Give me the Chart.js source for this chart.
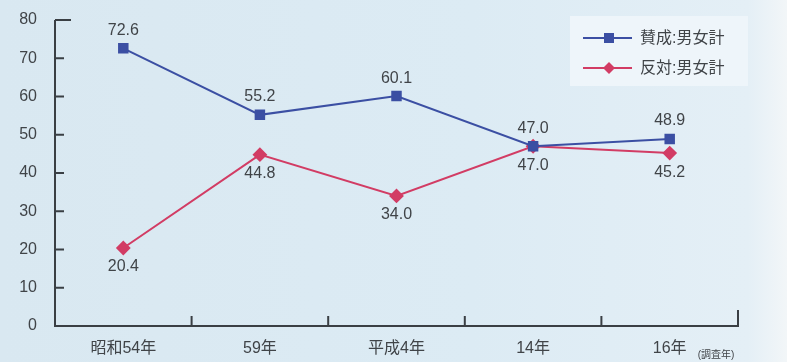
<!DOCTYPE html>
<html lang="ja">
<head>
  <meta charset="UTF-8" />
  <title>賛成・反対の推移</title>
  <script src="https://cdn.jsdelivr.net/npm/chart.js"></script>
  <style>
    html, body { margin: 0; padding: 0; background: #dbe9f2; }
    #wrap { width: 787px; height: 362px; position: relative; }
  </style>
</head>
<body>
  <div id="wrap"><canvas id="surveyChart" width="787" height="362"></canvas></div>

  <script>
    // survey years and values (%)
    const years = ['昭和54年', '59年', '平成4年', '14年', '16年'];
    const agreeTotal = [72.6, 55.2, 60.1, 47.0, 48.9];
    const disagreeTotal = [20.4, 44.8, 34.0, 47.0, 45.2];
    const yTicks = [0, 10, 20, 30, 40, 50, 60, 70, 80];
    const seriesNames = ['賛成:男女計', '反対:男女計'];

    const FONT = '"Liberation Sans", "Noto Sans CJK JP", sans-serif';
    const BLUE = '#3b4fa3';
    const RED = '#d23c64';
    const AXIS = '#3a3f44';
    const TEXT = '#404448';

    // background, axes, value labels, legend
    const decor = {
      id: 'decor',
      beforeDraw(chart) {
        const ctx = chart.ctx;
        const g = ctx.createLinearGradient(0, 0, chart.width, 0);
        g.addColorStop(0, '#d9e8f1');
        g.addColorStop(0.6, '#dcebf4');
        g.addColorStop(0.95, '#e4eff6');
        g.addColorStop(1, '#f2f6f8');
        ctx.save();
        ctx.fillStyle = g;
        ctx.fillRect(0, 0, chart.width, chart.height);
        ctx.restore();
      },
      afterDraw(chart) {
        const ctx = chart.ctx;
        const a = chart.chartArea;
        const x = chart.scales.x, y = chart.scales.y;
        ctx.save();
        ctx.strokeStyle = AXIS;
        ctx.lineWidth = 2;
        ctx.beginPath();
        // y axis with inward ticks
        ctx.moveTo(a.left, a.top);
        ctx.lineTo(a.left, a.bottom);
        ctx.lineTo(a.right, a.bottom);
        ctx.lineTo(a.right, a.bottom - 16);
        yTicks.forEach(v => {
          if (v === 0) return;
          const py = y.getPixelForValue(v);
          ctx.moveTo(a.left, py);
          ctx.lineTo(a.left + (v === 80 ? 16 : 9), py);
        });
        // category separators
        for (let i = 1; i < years.length; i++) {
          const px = (x.getPixelForValue(i - 1) + x.getPixelForValue(i)) / 2;
          ctx.moveTo(px, a.bottom);
          ctx.lineTo(px, a.bottom - 10);
        }
        ctx.stroke();

        // value labels
        ctx.font = '16px ' + FONT;
        ctx.fillStyle = TEXT;
        ctx.textAlign = 'center';
        ctx.textBaseline = 'middle';
        chart.getDatasetMeta(0).data.forEach((p, i) => {
          ctx.fillText(agreeTotal[i].toFixed(1), p.x, p.y - 18);
        });
        chart.getDatasetMeta(1).data.forEach((p, i) => {
          ctx.fillText(disagreeTotal[i].toFixed(1), p.x, p.y + 19);
        });

        // unit note
        ctx.font = '10px ' + FONT;
        ctx.fillText('(調査年)', 716, 355);

        // legend box
        ctx.fillStyle = '#eef5fa';
        ctx.fillRect(570, 16, 178, 70);
        const cols = [BLUE, RED];
        const rows = [38, 68];
        rows.forEach((ry, i) => {
          ctx.strokeStyle = cols[i];
          ctx.lineWidth = 2;
          ctx.beginPath();
          ctx.moveTo(583, ry);
          ctx.lineTo(632, ry);
          ctx.stroke();
          ctx.fillStyle = cols[i];
          ctx.beginPath();
          if (i === 0) {
            ctx.rect(604, ry - 5, 10, 10);
          } else {
            ctx.moveTo(609, ry - 6);
            ctx.lineTo(615, ry);
            ctx.lineTo(609, ry + 6);
            ctx.lineTo(603, ry);
            ctx.closePath();
          }
          ctx.fill();
          ctx.fillStyle = TEXT;
          ctx.font = '16px ' + FONT;
          ctx.textAlign = 'left';
          ctx.fillText(seriesNames[i], 640, ry + 1);
        });
        ctx.restore();
      }
    };

    new Chart(document.getElementById('surveyChart').getContext('2d'), {
      type: 'line',
      data: {
        labels: years,
        datasets: [
          {
            label: seriesNames[0],
            data: agreeTotal,
            borderColor: BLUE,
            backgroundColor: BLUE,
            borderWidth: 2,
            pointStyle: 'rect',
            pointRadius: 6,
            tension: 0
          },
          {
            label: seriesNames[1],
            data: disagreeTotal,
            borderColor: RED,
            backgroundColor: RED,
            borderWidth: 2,
            pointStyle: 'rectRot',
            pointRadius: 6,
            tension: 0
          }
        ]
      },
      options: {
        responsive: false,
        animation: false,
        layout: { padding: { top: 20, right: 49, left: 0, bottom: 0 } },
        plugins: {
          legend: { display: false },
          tooltip: { enabled: false }
        },
        scales: {
          x: {
            offset: true,
            grid: { display: false },
            border: { display: false },
            ticks: { color: TEXT, font: { size: 16, family: FONT }, padding: 5, maxRotation: 0 },
            afterFit: s => { s.height = 36; }
          },
          y: {
            min: 0,
            max: 80,
            grid: { display: false },
            border: { display: false },
            afterBuildTicks: s => { s.ticks = yTicks.map(v => ({ value: v })); },
            ticks: { color: TEXT, font: { size: 16, family: FONT }, padding: 10 },
            afterFit: s => { s.width = 55; }
          }
        }
      },
      plugins: [decor]
    });
  </script>
</body>
</html>
